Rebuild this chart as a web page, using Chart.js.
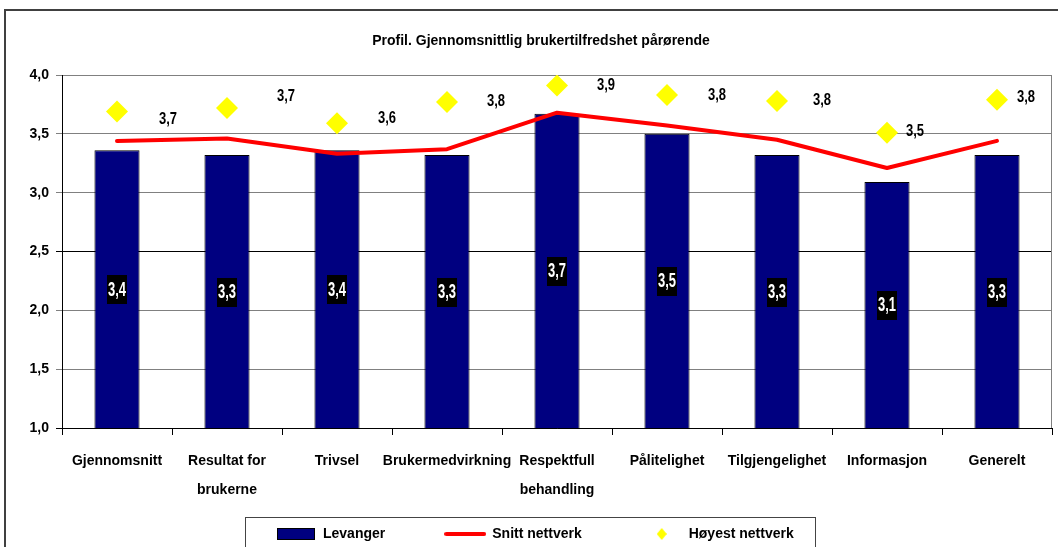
<!DOCTYPE html>
<html>
<head>
<meta charset="utf-8">
<script src="https://cdn.jsdelivr.net/npm/chart.js@4"></script>
<style>
html, body { margin: 0; padding: 0; background: #fff; }
#wrap { width: 1058px; height: 547px; }
</style>
</head>
<body>
<div id="wrap"><canvas id="chart" width="1058" height="547"></canvas></div>
<script>
// data
const categories = ['Gjennomsnitt', ['Resultat for', 'brukerne'], 'Trivsel', 'Brukermedvirkning',
  ['Respektfull', 'behandling'], 'Pålitelighet', 'Tilgjengelighet', 'Informasjon', 'Generelt'];
const levanger = [3.36, 3.32, 3.36, 3.32, 3.67, 3.50, 3.32, 3.09, 3.32];
const snittNettverk = [3.44, 3.46, 3.33, 3.37, 3.68, 3.57, 3.45, 3.21, 3.44];
const hoyestNettverk = [3.69, 3.72, 3.59, 3.77, 3.91, 3.83, 3.78, 3.51, 3.79];
const yTicks = [1.0, 1.5, 2.0, 2.5, 3.0, 3.5, 4.0];
const seriesNames = ['Levanger', 'Snitt nettverk', 'Høyest nettverk'];
const title = 'Profil. Gjennomsnittlig brukertilfredshet pårørende';

// where the "Høyest" labels sit relative to their diamonds (px)
const labelShift = [[51, 8], [59, -12], [50, -5], [49, -1], [49, 0], [50, 0], [45, -1], [28, -1], [29, -2]];

const FONT = "'Liberation Sans', Arial, sans-serif";
Chart.defaults.font.family = FONT;
Chart.defaults.font.weight = 'bold';
Chart.defaults.font.size = 14;
Chart.defaults.color = '#000';

const comma = v => v.toFixed(1).replace('.', ',');

// small legend icons
function icon(w, h, draw) {
  const c = document.createElement('canvas');
  c.width = w; c.height = h;
  draw(c.getContext('2d'));
  return c;
}
const barIcon = icon(38, 12, g => {
  g.fillStyle = '#000080'; g.fillRect(0, 0, 38, 12);
  g.strokeStyle = '#000'; g.lineWidth = 1; g.strokeRect(0.5, 0.5, 37, 11);
});
const lineIcon = icon(42, 6, g => {
  g.strokeStyle = '#ff0000'; g.lineWidth = 4; g.lineCap = 'round';
  g.beginPath(); g.moveTo(2, 3); g.lineTo(40, 3); g.stroke();
});
const diamondIcon = icon(10, 12, g => {
  g.fillStyle = '#ffff00';
  g.beginPath(); g.moveTo(5, 0); g.lineTo(10, 6); g.lineTo(5, 12); g.lineTo(0, 6); g.closePath(); g.fill();
});
const icons = [barIcon, lineIcon, diamondIcon];

// text drawn a bit taller than wide, like the original
function tallText(g, txt, x, y, stretch) {
  g.save();
  g.translate(x, y);
  g.scale(1, stretch);
  g.fillText(txt, 0, 0);
  g.restore();
}

const framePlugin = {
  id: 'frame',
  afterLayout(chart) {
    // nudge title and legend to where the original had them
    const t = chart.titleBlock;
    t.left += 15; t.right += 15;
    const lg = chart.legend;
    const P = lg.options.labels.padding;
    const start = (lg.left + P + lg.right - lg.lineWidths[0]) / 2;
    const dx = 276 - start;
    const dy = 467 - lg.top;
    lg.left += dx; lg.right += dx;
    lg.top += dy; lg.bottom += dy;
  },
  beforeDraw(chart) {
    const g = chart.ctx;
    g.save();
    g.fillStyle = '#fff';
    g.fillRect(0, 0, chart.width, chart.height);
    g.strokeStyle = '#404040';
    g.lineWidth = 2;
    g.beginPath();
    g.moveTo(5, chart.height + 2); g.lineTo(5, 10); g.lineTo(chart.width + 2, 10);
    g.stroke();
    g.lineWidth = 1;
    g.strokeStyle = '#444';
    g.strokeRect(245.5, 517.5, 570, 60);
    g.restore();
  },
  beforeDatasetsDraw(chart) {
    const a = chart.chartArea, g = chart.ctx;
    g.save();
    g.strokeStyle = '#808080';
    g.lineWidth = 1;
    g.beginPath();
    g.moveTo(a.right - 0.5, a.top); g.lineTo(a.right - 0.5, a.bottom);
    g.stroke();
    g.restore();
  },
  afterDatasetsDraw(chart) {
    const g = chart.ctx, a = chart.chartArea;
    g.save();
    g.font = 'bold 13px ' + FONT;
    g.textAlign = 'center';
    g.textBaseline = 'middle';
    // value boxes in the middle of each bar
    chart.getDatasetMeta(0).data.forEach((bar, i) => {
      const txt = comma(levanger[i]);
      const w = g.measureText(txt).width + 2;
      const cy = (bar.y + Math.min(bar.base, a.bottom)) / 2;
      g.fillStyle = '#000';
      g.fillRect(Math.round(bar.x - w / 2), Math.round(cy - 14), Math.round(w), 29);
      g.fillStyle = '#fff';
      tallText(g, txt, bar.x, cy + 1, 1.5);
    });
    // labels next to the diamonds
    g.fillStyle = '#000';
    chart.getDatasetMeta(2).data.forEach((pt, i) => {
      tallText(g, comma(hoyestNettverk[i]), pt.x + labelShift[i][0], pt.y + labelShift[i][1], 1.3);
    });
    g.restore();
  }
};

const data = {
  labels: categories,
  datasets: [
    {
      type: 'bar',
      label: seriesNames[0],
      data: levanger,
      backgroundColor: '#000080',
      borderColor: '#000',
      borderWidth: 1,
      barPercentage: 0.41,
      categoryPercentage: 1,
      order: 3
    },
    {
      type: 'line',
      label: seriesNames[1],
      data: snittNettverk,
      borderColor: '#ff0000',
      borderWidth: 4,
      borderJoinStyle: 'round',
      borderCapStyle: 'round',
      pointRadius: 0,
      tension: 0,
      order: 2
    },
    {
      type: 'line',
      label: seriesNames[2],
      data: hoyestNettverk,
      showLine: false,
      pointStyle: 'rectRot',
      pointRadius: 11,
      pointBackgroundColor: '#ffff00',
      pointBorderWidth: 0,
      order: 1
    }
  ]
};

const config = {
  type: 'bar',
  data: data,
  options: {
    responsive: false,
    animation: false,
    layout: { autoPadding: false, padding: { top: 0, right: 6, bottom: -40, left: 0 } },
    plugins: {
      title: {
        display: true,
        text: title,
        font: { size: 14, weight: 'bold' },
        color: '#000',
        padding: { top: 33, bottom: 25.2 }
      },
      legend: {
        position: 'bottom',
        labels: {
          usePointStyle: true,
          pointStyleWidth: 40,
          padding: 60,
          font: { size: 14, weight: 'bold' },
          color: '#000',
          generateLabels: () => seriesNames.map((name, i) => ({
            text: name,
            pointStyle: icons[i],
            fillStyle: 'transparent',
            strokeStyle: 'transparent',
            lineWidth: 0,
            hidden: false,
            datasetIndex: i
          }))
        }
      },
      tooltip: { enabled: false }
    },
    scales: {
      x: {
        grid: { offset: true, drawOnChartArea: false, color: '#000', tickLength: 7 },
        border: { color: '#000' },
        ticks: { padding: 12, maxRotation: 0, autoSkip: false, font: { size: 14, weight: 'bold', lineHeight: 2.04 } },
        afterFit: s => { s.height = 75; s.paddingLeft = 0; s.paddingRight = 0; }
      },
      y: {
        min: 1,
        max: 4,
        afterBuildTicks: s => { s.ticks = yTicks.map(v => ({ value: v })); },
        ticks: { padding: 7, callback: v => comma(v) },
        grid: {
          color: c => (c.tick && (c.tick.value === 2.5 || c.tick.value === 1)) ? '#000' : '#808080',
          tickLength: 6
        },
        border: { color: '#000' },
        afterFit: s => { s.width = 62; s.paddingTop = 0; s.paddingBottom = 0; }
      }
    }
  },
  plugins: [framePlugin]
};

const chart = new Chart(document.getElementById('chart'), config);
</script>
</body>
</html>
